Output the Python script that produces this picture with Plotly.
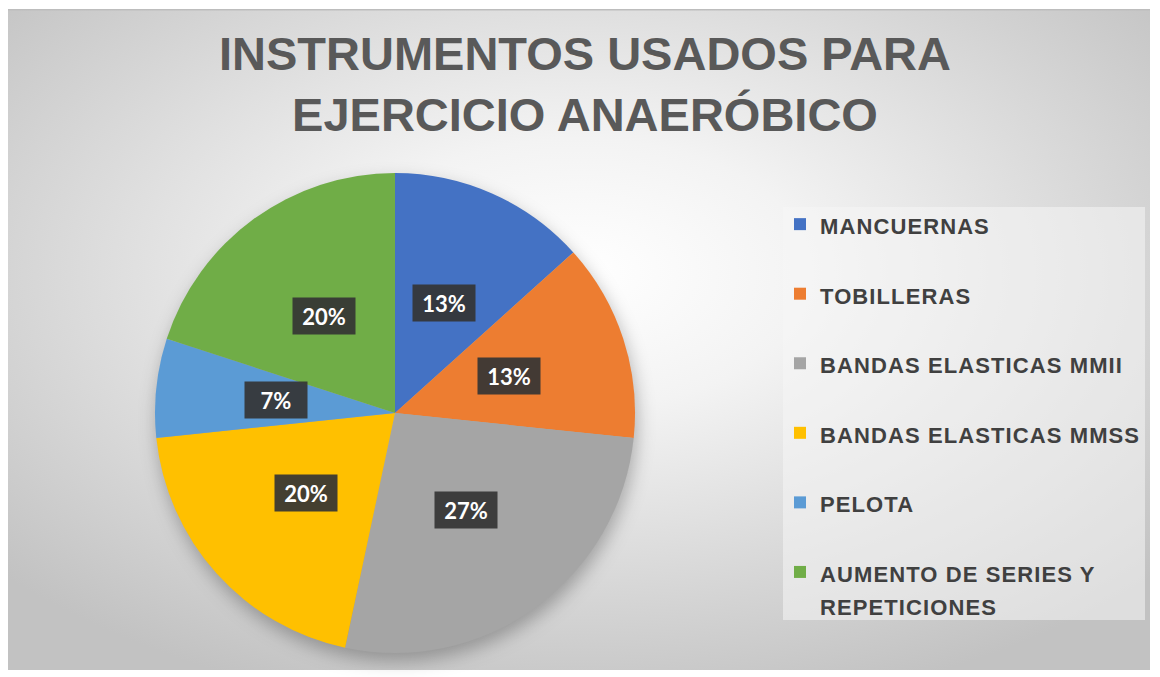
import base64
import math
import plotly.graph_objects as go

# ---------------- data ----------------
labels = ["MANCUERNAS", "TOBILLERAS", "BANDAS ELASTICAS MMII",
          "BANDAS ELASTICAS MMSS", "PELOTA", "AUMENTO DE SERIES Y<br>REPETICIONES"]
counts = [2, 2, 4, 3, 1, 3]
colors = ["#4472C4", "#ED7D31", "#A5A5A5", "#FFC000", "#5B9BD5", "#70AD47"]
title_text = "INSTRUMENTOS USADOS PARA<br>EJERCICIO ANAERÓBICO"

# ---------------- layout constants (figure pixels) ----------------
W, H = 1160, 677
CX, CY, R = 387, 405, 240      # pie centre / radius
LABEL_F = 0.5                  # label distance as fraction of radius

# background: radial grey gradient + soft pie shadow (SVG)
svg = f"""<svg xmlns='http://www.w3.org/2000/svg' width='{W}' height='{H}' viewBox='0 0 {W} {H}' preserveAspectRatio='none'>
<defs>
<radialGradient id='g' cx='50%' cy='40%' r='68%'>
<stop offset='0' stop-color='#ffffff'/>
<stop offset='0.3' stop-color='#f3f3f3'/>
<stop offset='1' stop-color='#c2c2c2'/>
</radialGradient>
<filter id='b' x='-30%' y='-30%' width='160%' height='160%'><feGaussianBlur stdDeviation='9'/></filter>
</defs>
<rect x='0' y='0' width='{W}' height='{H}' fill='#ffffff'/>
<rect x='0' y='1' width='{W-18}' height='{H-16}' fill='url(#g)'/>
<rect x='0' y='1' width='{W-18}' height='1.5' fill='#bdbdbd'/>
<circle cx='{CX+2}' cy='{CY+8}' r='{R}' fill='#000' fill-opacity='0.28' filter='url(#b)'/>
</svg>"""
bg_uri = "data:image/svg+xml;base64," + base64.b64encode(svg.encode()).decode()

SPAN = "<span style='font-size:22px;letter-spacing:1.1px'>{}</span>"
legend_labels = []
for t in labels:
    parts = t.split("<br>")
    if len(parts) > 1:
        legend_labels.append("<br>".join(SPAN.format(p) for p in parts))
    else:
        legend_labels.append(SPAN.format(parts[0]) + "<br>\u00a0")

fig = go.Figure()
fig.add_trace(go.Pie(
    labels=legend_labels,
    values=counts,
    sort=False,
    direction="clockwise",
    rotation=0,
    textinfo="none",
    hoverinfo="label+percent",
    marker=dict(colors=colors, line=dict(width=0)),
    domain=dict(x=[(CX - R) / W, (CX + R) / W], y=[1 - (CY + R) / H, 1 - (CY - R) / H]),
))

# percentage labels (dark boxes), placed at slice mid-angles derived from the data
total = sum(counts)
cum = 0
annotations = []
for v in counts:
    mid = (cum + v / 2) / total * 2 * math.pi
    cum += v
    px = CX + LABEL_F * R * math.sin(mid)
    py = CY - LABEL_F * R * math.cos(mid)
    annotations.append(dict(
        x=px / W, y=1 - py / H, xref="paper", yref="paper",
        text=f"<b>{round(v / total * 100)}%</b>", showarrow=False,
        font=dict(family="Lato", size=22, color="#ffffff"),
        bgcolor="rgba(52,52,52,0.92)", width=56, height=30, borderpad=3,
        xanchor="center", yanchor="middle",
    ))

fig.update_layout(
    width=W, height=H,
    margin=dict(l=0, r=0, t=0, b=0),
    paper_bgcolor="#ffffff",
    plot_bgcolor="rgba(0,0,0,0)",
    title=dict(
        text=title_text,
        x=577 / W, xanchor="center",
        y=1 - 62 / H, yanchor="top",
        font=dict(family="Liberation Sans", size=47, color="#595959", weight="bold"),
    ),
    images=[dict(source=bg_uri, xref="paper", yref="paper", x=0, y=1,
                 sizex=1, sizey=1, xanchor="left", yanchor="top",
                 sizing="stretch", layer="below")],
    shapes=[dict(type="rect", xref="paper", yref="paper",
                 x0=775 / W, x1=1137 / W, y0=1 - 612 / H, y1=1 - 199 / H,
                 fillcolor="rgba(246,246,246,0.55)", line=dict(width=0), layer="below")],
    legend=dict(
        x=772 / W, xanchor="left", y=1 - 193 / H, yanchor="top",
        bgcolor="rgba(0,0,0,0)", borderwidth=0,
        font=dict(family="Liberation Sans", size=25.6, color="#404040", weight="bold"),
        valign="top", traceorder="normal",
    ),
    showlegend=True,
    annotations=annotations,
)

fig.write_html("out.html")
